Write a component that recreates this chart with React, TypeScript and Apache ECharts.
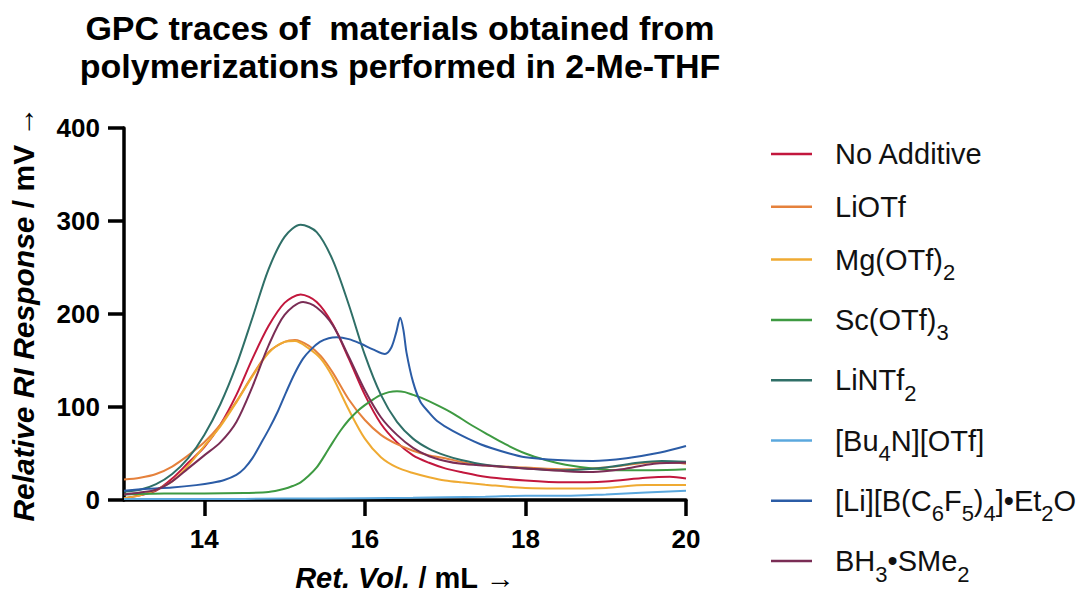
import React, { useEffect, useRef } from "react";
import * as echarts from "echarts";

// Retention volume (mL) / RI response (mV) pairs for each trace
const noAdditive: [number, number][] = [
  [13.0, 2], [13.2, 5], [13.4, 10], [13.6, 23], [13.8, 40], [14.0, 57], [14.2, 81],
  [14.4, 113], [14.6, 152], [14.8, 187], [15.0, 212], [15.2, 221], [15.4, 213],
  [15.6, 189], [15.8, 152], [16.0, 113], [16.2, 82], [16.4, 62], [16.6, 48],
  [16.8, 40], [17.0, 34], [17.2, 30], [17.5, 25], [18.0, 21], [18.5, 19],
  [19.0, 20], [19.5, 24], [19.8, 25], [20.0, 23],
];

const liOTf: [number, number][] = [
  [13.0, 22], [13.2, 24], [13.4, 28], [13.6, 36], [13.8, 48], [14.0, 62], [14.2, 81],
  [14.4, 106], [14.6, 134], [14.8, 159], [15.0, 170], [15.13, 172], [15.3, 166],
  [15.45, 155], [15.6, 137], [15.8, 108], [16.0, 86], [16.2, 70], [16.4, 60],
  [16.6, 53], [16.8, 48], [17.0, 45], [17.2, 41], [17.5, 37], [18.0, 35],
  [18.5, 33], [19.0, 35], [19.5, 40], [19.7, 41], [20.0, 39],
];

const mgOTf2: [number, number][] = [
  [13.0, 2], [13.2, 5], [13.4, 11], [13.6, 20], [13.8, 37], [14.0, 58], [14.2, 79],
  [14.4, 105], [14.6, 133], [14.8, 158], [15.0, 170], [15.13, 171], [15.3, 163],
  [15.45, 152], [15.6, 132], [15.8, 97], [16.0, 66], [16.2, 46], [16.4, 35],
  [16.6, 29], [16.8, 24.5], [17.0, 21], [17.2, 19], [17.5, 16.5], [18.0, 13],
  [18.5, 12.5], [19.0, 13], [19.5, 16], [20.0, 16],
];

const scOTf3: [number, number][] = [
  [13.0, 6], [13.5, 7], [14.0, 7], [14.5, 7.5], [14.8, 8.5], [15.0, 12], [15.1, 15],
  [15.2, 19], [15.3, 26], [15.4, 35], [15.5, 48], [15.6, 62], [15.7, 75], [15.8, 86],
  [15.9, 95], [16.0, 102], [16.1, 108], [16.2, 113], [16.3, 116], [16.4, 117],
  [16.5, 116], [16.6, 113], [16.7, 110], [16.9, 102], [17.1, 93], [17.3, 82],
  [17.5, 72], [17.75, 60], [18.0, 50], [18.25, 43], [18.5, 38], [18.84, 34],
  [19.2, 32], [19.6, 32], [20.0, 33],
];

const liNTf2: [number, number][] = [
  [13.0, 9], [13.2, 11], [13.4, 17], [13.6, 28], [13.8, 45], [14.0, 70], [14.2, 103],
  [14.4, 145], [14.6, 196], [14.8, 248], [15.0, 283], [15.2, 296], [15.4, 288],
  [15.6, 258], [15.8, 210], [16.0, 156], [16.2, 113], [16.4, 84], [16.6, 66],
  [16.8, 55], [17.0, 48], [17.2, 43], [17.5, 38], [18.0, 34], [18.5, 32],
  [19.0, 35], [19.4, 40], [19.7, 42], [20.0, 41],
];

const bu4nOTf: [number, number][] = [
  [13.0, 1], [14.0, 1], [15.0, 1.5], [16.0, 2], [16.6, 2.5], [17.0, 3], [17.5, 3.5],
  [18.0, 4.5], [18.5, 4.5], [19.0, 6], [19.5, 8], [20.0, 10],
];

const liBC6F5: [number, number][] = [
  [13.0, 10], [13.3, 12], [13.6, 13.5], [13.9, 16], [14.1, 18.5], [14.25, 21.5],
  [14.4, 27], [14.5, 34], [14.6, 45], [14.7, 60], [14.81, 77], [14.92, 96], [15.02, 116],
  [15.12, 135], [15.23, 152], [15.33, 162], [15.44, 170], [15.55, 174], [15.65, 175],
  [15.8, 173], [15.95, 168], [16.1, 162], [16.25, 157], [16.33, 164], [16.39, 180],
  [16.44, 196], [16.48, 183], [16.52, 158], [16.6, 127], [16.69, 106], [16.8, 94],
  [16.9, 85], [17.1, 74], [17.44, 60], [17.8, 50], [18.0, 46], [18.4, 43],
  [18.84, 42], [19.26, 45], [19.68, 51], [20.0, 58],
];

const bh3SMe2: [number, number][] = [
  [13.0, 6], [13.2, 8], [13.4, 11], [13.6, 20], [13.8, 34], [14.0, 48], [14.2, 62],
  [14.4, 84], [14.6, 122], [14.8, 166], [15.0, 199], [15.23, 213], [15.4, 207],
  [15.6, 188], [15.8, 154], [16.0, 118], [16.2, 89], [16.4, 70], [16.6, 56],
  [16.8, 47], [17.0, 42], [17.2, 39], [17.5, 37], [18.0, 34], [18.5, 31],
  [18.84, 30], [19.2, 33], [19.6, 39], [20.0, 40],
];

const xTicks = [14, 16, 18, 20];

const FONT = '"Liberation Sans", Arial, Helvetica, sans-serif';

// Series names, rich-text legend labels (with subscripts) and colours
const traces = [
  { name: "No Additive", label: "{n|No Additive}", color: "#C2173D", data: noAdditive },
  { name: "LiOTf", label: "{n|LiOTf}", color: "#E5813C", data: liOTf },
  { name: "Mg(OTf)2", label: "{n|Mg(OTf)}{s|2}", color: "#EFAA32", data: mgOTf2 },
  { name: "Sc(OTf)3", label: "{n|Sc(OTf)}{s|3}", color: "#3E9A42", data: scOTf3 },
  { name: "LiNTf2", label: "{n|LiNTf}{s|2}", color: "#2F6F67", data: liNTf2 },
  { name: "[Bu4N][OTf]", label: "{n|[Bu}{s|4}{n|N][OTf]}", color: "#5BA8DE", data: bu4nOTf },
  {
    name: "[Li][B(C6F5)4]•Et2O",
    label: "{n|[Li][B(C}{s|6}{n|F}{s|5}{n|)}{s|4}{n|]•Et}{s|2}{n|O}",
    color: "#2B5CA6",
    data: liBC6F5,
  },
  { name: "BH3•SMe2", label: "{n|BH}{s|3}{n|•SMe}{s|2}", color: "#7A2D55", data: bh3SMe2 },
];

// Hand-laid legend: entries with a subscript take a little more room
function buildLegend() {
  const els: any[] = [];
  let y = 154;
  traces.forEach((t) => {
    els.push({
      type: "line",
      shape: { x1: 771, y1: y, x2: 812, y2: y },
      style: { stroke: t.color, lineWidth: 2.5 },
      silent: true,
    });
    els.push({
      type: "text",
      x: 835,
      y,
      silent: true,
      style: {
        text: t.label,
        fontFamily: FONT,
        fontSize: 29,
        fill: "#111",
        verticalAlign: "middle",
        align: "left",
        rich: {
          n: { fontFamily: FONT, fontSize: 29, lineHeight: 50, fill: "#111", verticalAlign: "middle" },
          s: {
            fontFamily: FONT,
            fontSize: 22,
            lineHeight: 22,
            fill: "#111",
            padding: [26, 0, 0, 0],
            verticalAlign: "middle",
          },
        },
      },
    });
    y += t.label.includes("{s|") ? 60.3 : 52.8;
  });
  return els;
}

export default function App() {
  const ref = useRef<HTMLDivElement>(null);

  useEffect(() => {
    if (!ref.current) return;
    const chart = echarts.init(ref.current, undefined, { renderer: "svg" });

    chart.setOption({
      animation: false,
      backgroundColor: "#ffffff",
      title: {
        text: "GPC traces of  materials obtained from\npolymerizations performed in 2-Me-THF",
        left: 400,
        top: 9,
        padding: 0,
        textAlign: "center",
        textStyle: {
          fontFamily: FONT,
          fontSize: 34,
          fontWeight: "bold",
          lineHeight: 38,
          color: "#000",
        },
      },
      graphic: buildLegend(),
      grid: { left: 124, top: 128, width: 562, height: 374, containLabel: false },
      xAxis: {
        type: "value",
        min: 13,
        max: 20,
        name: "{i|Ret. Vol.}{r| / mL }{a|→}",
        nameLocation: "middle",
        nameGap: 63,
        nameTextStyle: {
          rich: {
            i: { fontFamily: FONT, fontSize: 29, fontWeight: "bold", fontStyle: "italic", color: "#000" },
            r: { fontFamily: FONT, fontSize: 29, fontWeight: "bold", color: "#000" },
            a: { fontFamily: FONT, fontSize: 29, fontWeight: "normal", color: "#000" },
          },
        },
        axisLine: { show: true, onZero: false, lineStyle: { color: "#000", width: 3.5 } },
        axisTick: {
          show: true,
          length: 16,
          customValues: xTicks,
          lineStyle: { color: "#000", width: 3.5 },
        },
        axisLabel: {
          customValues: xTicks,
          margin: 26,
          fontFamily: FONT,
          fontSize: 26,
          fontWeight: "bold",
          color: "#000",
        },
        splitLine: { show: false },
      },
      yAxis: {
        type: "value",
        min: 0,
        max: 400,
        interval: 100,
        name: "{i|Relative RI Response}{r| / mV }{a|→}",
        nameLocation: "middle",
        nameRotate: 90,
        nameGap: 86,
        nameTextStyle: {
          rich: {
            i: { fontFamily: FONT, fontSize: 30, fontWeight: "bold", fontStyle: "italic", color: "#000" },
            r: { fontFamily: FONT, fontSize: 30, fontWeight: "bold", color: "#000" },
            a: { fontFamily: FONT, fontSize: 30, fontWeight: "normal", color: "#000" },
          },
        },
        axisLine: { show: true, lineStyle: { color: "#000", width: 3.5 } },
        axisTick: { show: true, length: 16, lineStyle: { color: "#000", width: 3.5 } },
        axisLabel: {
          margin: 24,
          fontFamily: FONT,
          fontSize: 26,
          fontWeight: "bold",
          color: "#000",
        },
        splitLine: { show: false },
      },
      series: traces.map((t) => ({
        name: t.name,
        type: "line",
        data: t.data,
        smooth: 0.3,
        showSymbol: false,
        symbol: "none",
        color: t.color,
        lineStyle: { width: 2, color: t.color },
        emphasis: { disabled: true },
      })),
    });

    return () => chart.dispose();
  }, []);

  return (
    <div
      ref={ref}
      style={{ position: "fixed", left: 0, top: 0, width: 1085, height: 597 }}
    />
  );
}
